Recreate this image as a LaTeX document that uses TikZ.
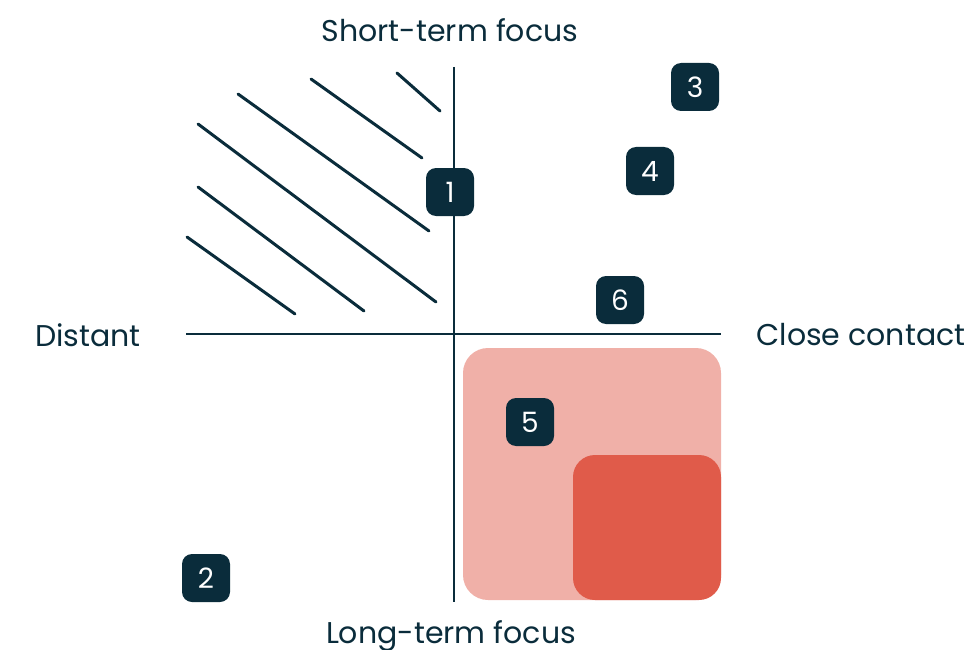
\documentclass[tikz,border=0pt]{standalone}
\usepackage{fontspec}
\setmainfont{Poppins}

\definecolor{ink}{HTML}{0A2C3B}
\definecolor{blush}{HTML}{F0B0A8}
\definecolor{coral}{HTML}{E05B4A}

\tikzset{
  badge/.style={fill=ink, text=white, rounded corners=10pt, minimum size=48pt,
    inner sep=0pt, font=\fontsize{28}{32}\selectfont},
  axislabel/.style={text=ink, font=\fontsize{30}{34}\selectfont},
  hatch/.style={ink, line width=3pt, line cap=round},
}

\begin{document}
\begin{tikzpicture}[x=1pt, y=-1pt]
    \useasboundingbox (0,0) rectangle (969,650);

    % zones
    \fill[blush] (463,348) [rounded corners=25pt] rectangle (721,600);
    \fill[coral] (573,455) [rounded corners=22pt] rectangle (721,600);

    % hatching, upper left
    \foreach \a/\b/\c/\d in {397/73/440/111, 311/79/422/158, 238/94/429/231,
                             198/124/436/302, 198/187/364/311, 187/237/295/314}
        \draw[hatch] (\a,\b) -- (\c,\d);

    % axes
    \coordinate (top) at (454,67);
    \coordinate (bottom) at (454,602);
    \coordinate (left) at (186,334);
    \coordinate (right) at (721,334);
    \draw[ink, line width=2pt] (top) -- (bottom);
    \draw[ink, line width=2pt] (left) -- (right);

    \node[axislabel] (short) at (450,30) {Short-term focus};
    \node[axislabel] (long) at (451,636) {Long-term focus};
    \node[axislabel] (distant) at (88,335) {Distant};
    \node[axislabel, anchor=west] (close) at (753,335) {Close contact};

    % numbered markers
    \node[badge] (b1) at (450,192) {1};
    \node[badge] (b2) at (206,578) {2};
    \node[badge] (b3) at (695,87) {3};
    \node[badge] (b4) at (650,171) {4};
    \node[badge] (b5) at (530,422) {5};
    \node[badge] (b6) at (620,300) {6};

\end{tikzpicture}
\end{document}
